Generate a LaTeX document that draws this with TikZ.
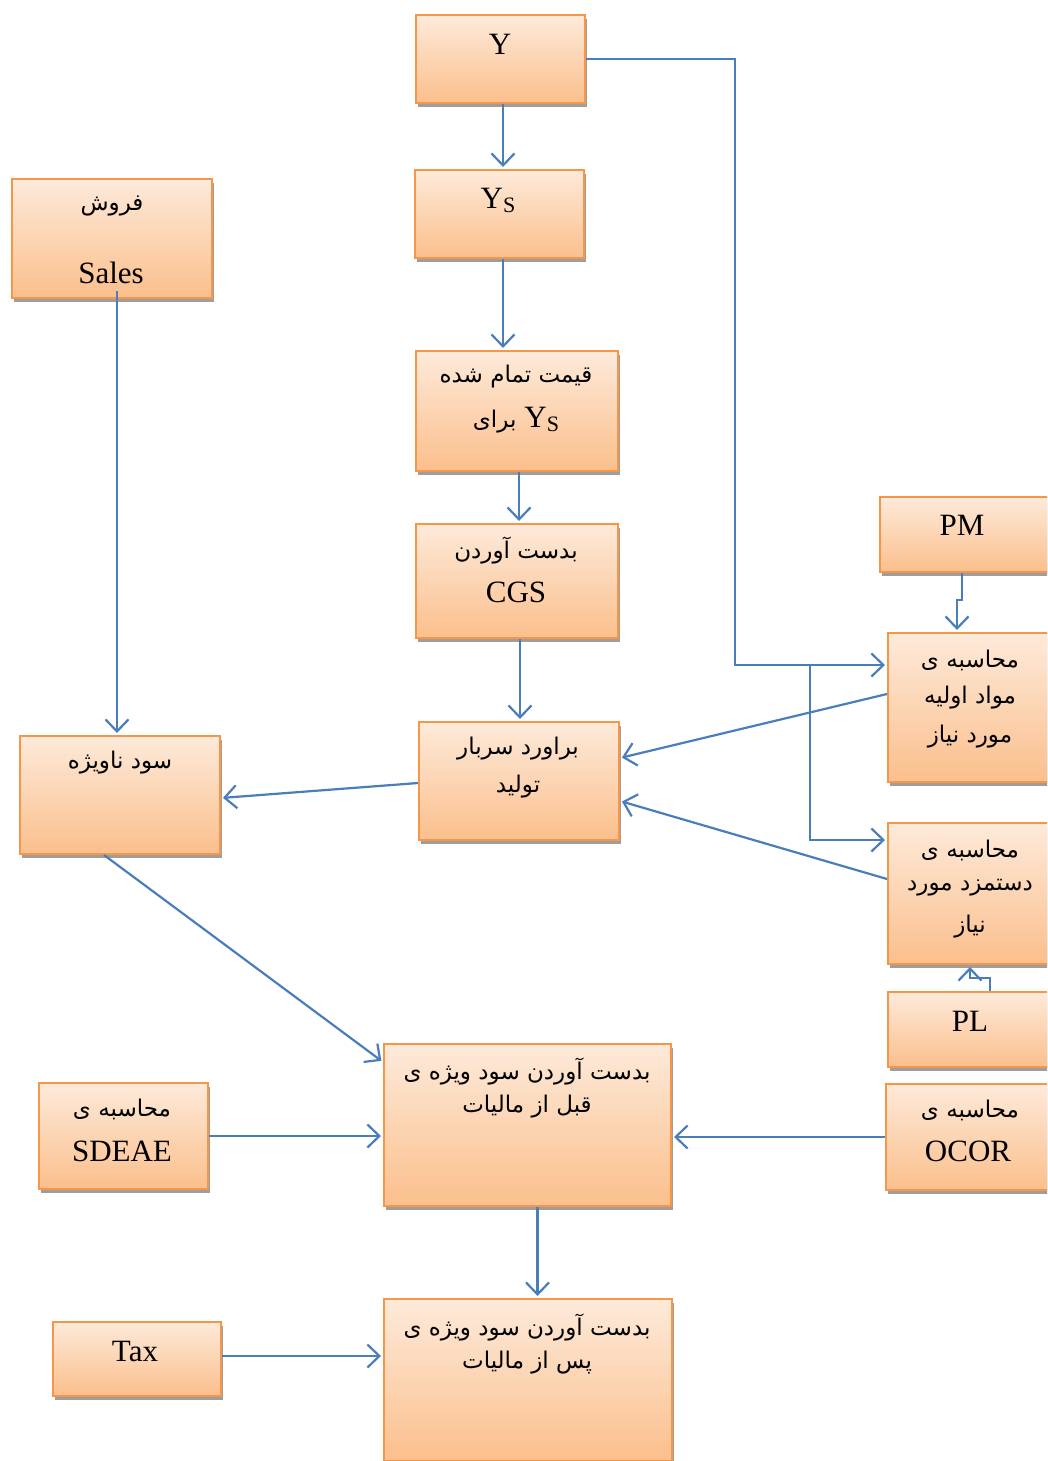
\documentclass[tikz,border=0pt]{standalone}
\usepackage{fontspec}
\setmainfont{Liberation Serif}
\newfontfamily\arabicfont[Script=Arabic]{DejaVu Sans}
\TeXXeTstate=1
\usetikzlibrary{arrows.meta,shadows,calc}
\definecolor{boxline}{HTML}{F79646}
\definecolor{boxtop}{HTML}{FDEADA}
\definecolor{boxbot}{HTML}{FBBF8C}
\definecolor{arr}{HTML}{4A7EBB}
\newcommand{\fa}[1]{{\arabicfont\fontsize{23}{27}\selectfont\beginR #1\endR}}
\newcommand{\la}[1]{{\fontsize{31}{36}\selectfont #1}}
\newcommand{\Ysub}{Y{\fontsize{22}{24}\selectfont\raisebox{-4pt}{S}}}
\tikzset{
  box/.style={draw=boxline, line width=2pt, top color=boxtop, bottom color=boxbot,
    drop shadow={shadow xshift=1.5pt, shadow yshift=-4pt, fill=black!38, opacity=1},
    inner sep=0pt, anchor=north west},
  lbl/.style={inner sep=0pt, anchor=center, text=black},
  conn/.style={draw=arr, line width=2.2pt, shorten >=2pt,
    -{Straight Barb[length=12pt,width=23pt,line width=2.2pt]}},
}
\newcommand{\bx}[5]{\node[box, minimum width=#4pt, minimum height=#5pt] (#1) at (#2,#3) {};}
\begin{document}
\begin{tikzpicture}[x=1pt,y=-1pt]
\clip (0,0) rectangle (1047,1461);
\fill[white] (0,0) rectangle (1047,1461);
% boxes
\bx{Y}{415}{14}{169}{88}
\bx{Ys}{414}{169}{169}{88}
\bx{sales}{11}{178}{200}{119}
\bx{gheymat}{415}{350}{202}{120}
\bx{cgs}{415}{523}{202}{114}
\bx{pm}{879}{496}{190}{75}
\bx{mavad}{887}{632}{180}{149}
\bx{bar}{418}{721}{200}{118}
\bx{sn}{19}{735}{200}{118}
\bx{dast}{887}{822}{180}{141}
\bx{pl}{887}{991}{180}{75}
\bx{sd}{38}{1082}{169}{106}
\bx{ghabl}{383}{1043}{287}{162}
\bx{ocor}{885}{1083}{182}{106}
\bx{tax}{52}{1321}{168}{74}
\bx{pas}{383}{1298}{288}{162}
% texts
\node[lbl] (tY) at (500,44) {\la{Y}};
\node[lbl] (tYs) at (498,200) {\la{\Ysub}};
\node[lbl] (tsales1) at (112,206) {\fa{فروش}};
\node[lbl] (tsales2) at (111,273) {\la{Sales}};
\node[lbl] (tgh1) at (516,377) {\fa{قیمت تمام شده}};
\node[lbl] (tgh2) at (516,420) {\fa{برای}\hspace{8pt}\la{\Ysub}};
\node[lbl] (tcgs1) at (516,551) {\fa{بدست آوردن}};
\node[lbl] (tcgs2) at (516,592) {\la{CGS}};
\node[lbl] (tpm) at (962,525) {\la{PM}};
\node[lbl] (tmv1) at (970,660) {\fa{محاسبه ی}};
\node[lbl] (tmv2) at (970,698) {\fa{مواد اولیه}};
\node[lbl] (tmv3) at (970,737) {\fa{مورد نیاز}};
\node[lbl] (tbar1) at (518,749) {\fa{براورد سربار}};
\node[lbl] (tbar2) at (518,787) {\fa{تولید}};
\node[lbl] (tsn) at (120,763) {\fa{سود ناویژه}};
\node[lbl] (tds1) at (970,850) {\fa{محاسبه ی}};
\node[lbl] (tds2) at (970,888) {\fa{دستمزد مورد}};
\node[lbl] (tds3) at (970,927) {\fa{نیاز}};
\node[lbl] (tpl) at (970,1021) {\la{PL}};
\node[lbl] (tsd1) at (122,1109) {\fa{محاسبه ی}};
\node[lbl] (tsd2) at (122,1151) {\la{SDEAE}};
\node[lbl] (tgb1) at (527,1071) {\fa{بدست آوردن سود ویژه ی}};
\node[lbl] (tgb2) at (527,1107) {\fa{قبل از مالیات}};
\node[lbl] (toc1) at (970,1110) {\fa{محاسبه ی}};
\node[lbl] (toc2) at (968,1151) {\la{OCOR}};
\node[lbl] (ttax) at (135,1351) {\la{Tax}};
\node[lbl] (tps1) at (527,1327) {\fa{بدست آوردن سود ویژه ی}};
\node[lbl] (tps2) at (527,1363) {\fa{پس از مالیات}};
% junctions
\coordinate (j1) at (735,665);
\coordinate (j2) at (810,665);
\coordinate (j3) at (810,840);
% connectors
\draw[conn] ([xshift=2.5pt]Y.south) -- ([xshift=3.5pt]Ys.north);
\draw[conn] ([xshift=3.5pt]Ys.south) -- ([xshift=-14pt]gheymat.north);
\draw[conn] ([xshift=2pt]gheymat.south) -- ([xshift=2pt]cgs.north);
\draw[conn] ([xshift=3pt]cgs.south) -- ([xshift=1pt]bar.north);
\draw[conn] ([xshift=5pt,yshift=8pt]sales.south) -- ([xshift=-3pt]sn.north);
\draw[conn] (Y.east) -| (j1) -- (mavad.west |- j1);
\draw[conn] (j2) -- (j3) -- (dast.west |- j3);
\draw[conn] ([yshift=13.5pt]mavad.west) -- ([yshift=23pt]bar.east);
\draw[conn] ([yshift=14.5pt]dast.west) -- ([yshift=-20pt]bar.east);
\draw[conn] ([yshift=-2pt]bar.west) -- ([yshift=-3pt]sn.east);
\draw[conn] ([xshift=-16pt]sn.south) -- ([yshift=-19pt]ghabl.north west);
\draw[conn] (pm.south -| 962,0) -- (962,600) -- (957,600) -- (mavad.north -| 957,0);
\draw[conn] (pl.north -| 990,0) -- (990,978) -- (970,978) -- (dast.south -| 970,0);
\draw[conn] (sd.east) -- (sd.east -| ghabl.west);
\draw[conn] (ocor.west) -- (ocor.west -| ghabl.east);
\draw[conn] ([xshift=10pt]ghabl.south) -- ([xshift=9.5pt]pas.north);
\draw[conn] ([yshift=3pt]tax.east) -- ([yshift=3pt]tax.east -| pas.west);
\end{tikzpicture}
\end{document}
